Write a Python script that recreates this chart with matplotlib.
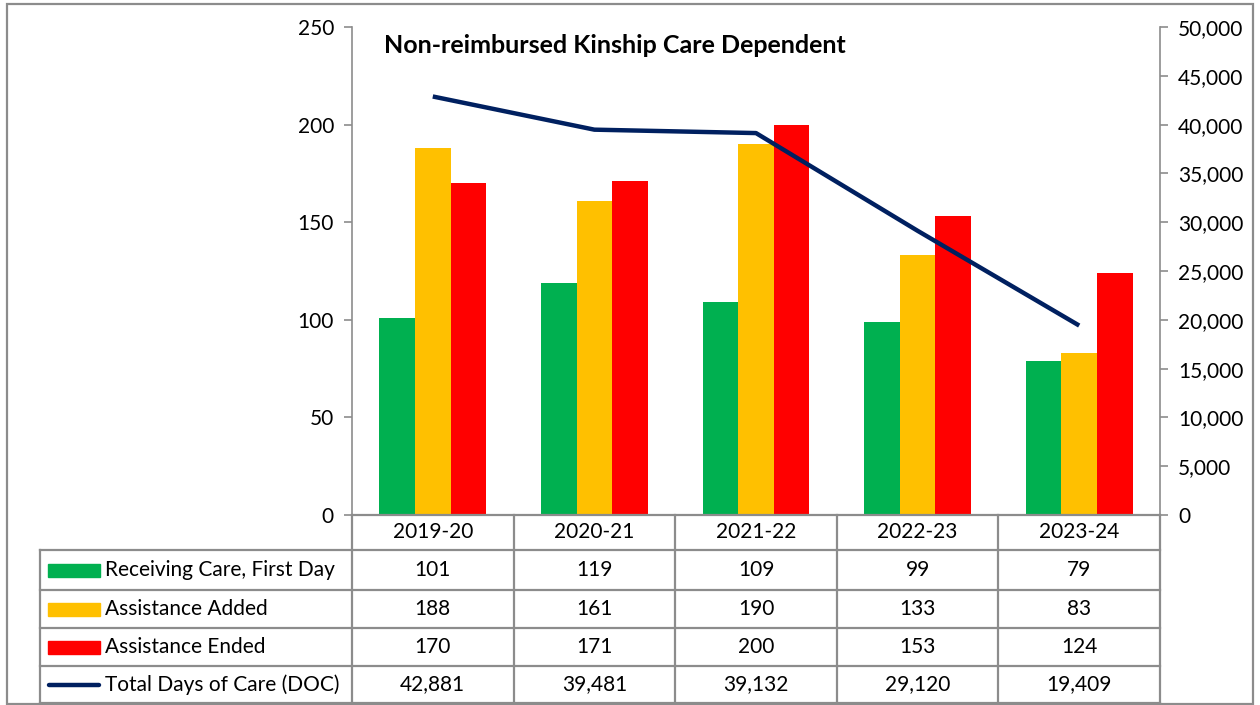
import matplotlib
matplotlib.use("Agg")
import matplotlib.pyplot as plt
from matplotlib.lines import Line2D
from matplotlib.patches import Rectangle
from matplotlib.ticker import FuncFormatter, MultipleLocator
import matplotlib.transforms as mtransforms

plt.rcParams['font.family'] = ['Lato', 'DejaVu Sans']

# Données
categories = ["2019-20", "2020-21", "2021-22", "2022-23", "2023-24"]
receiving = [101, 119, 109, 99, 79]
added = [188, 161, 190, 133, 83]
ended = [170, 171, 200, 153, 124]
doc = [42881, 39481, 39132, 29120, 19409]
series_names = ["Receiving Care, First Day", "Assistance Added",
                "Assistance Ended", "Total Days of Care (DOC)"]

GREEN, YELLOW, RED, NAVY = "#00B050", "#FFC000", "#FF0000", "#002060"
GRID = "#8C8C8C"
FS = 15

W, H = 1260, 705
fig = plt.figure(figsize=(W / 100, H / 100), dpi=100)

def fx(x):
    return x / W

def fy(y):
    return 1 - y / H

# Zone du graphique
left, right, top, bottom = 352, 1160, 27, 515
ax = fig.add_axes([fx(left), fy(bottom), fx(right - left), (bottom - top) / H])
x = list(range(len(categories)))
bw = 0.22
ax.bar([i - bw for i in x], receiving, bw, color=GREEN)
ax.bar(x, added, bw, color=YELLOW)
ax.bar([i + bw for i in x], ended, bw, color=RED)
ax.set_xlim(-0.5, len(categories) - 0.5)
ax.set_ylim(0, 250)
ax.yaxis.set_major_locator(MultipleLocator(50))
ax.set_xticks([])
for s in ["top", "bottom", "right"]:
    ax.spines[s].set_visible(False)
ax.spines["left"].set_color(GRID)
ax.spines["left"].set_linewidth(1.2)
ax.tick_params(axis="y", direction="out", length=6, color=GRID, width=1.2,
               labelsize=FS, pad=7)

ax2 = ax.twinx()
ax2.plot(x, doc, color=NAVY, linewidth=3.2, solid_capstyle="butt")
ax2.set_ylim(0, 50000)
ax2.yaxis.set_major_locator(MultipleLocator(5000))
ax2.yaxis.set_major_formatter(FuncFormatter(lambda v, p: f"{int(v):,}"))
for s in ["top", "bottom", "left"]:
    ax2.spines[s].set_visible(False)
ax2.spines["right"].set_color(GRID)
ax2.spines["right"].set_linewidth(1.2)
ax2.tick_params(axis="y", direction="out", length=6, color=GRID, width=1.2,
                labelsize=FS, pad=7)

ax.text(0.04, 0.985, "Non-reimbursed Kinship Care Dependent", transform=ax.transAxes,
        fontsize=18, fontweight="bold", ha="left", va="top")

# Tableau de données
trans = mtransforms.blended_transform_factory(ax.transData, fig.transFigure)
rows_y = [515, 550, 590, 628, 666, 703]
lw = 1.6

def hline(x0, x1, y):
    fig.add_artist(Line2D([fx(x0), fx(x1)], [fy(y), fy(y)], color=GRID, lw=lw))

def vline(xp, y0, y1):
    fig.add_artist(Line2D([fx(xp), fx(xp)], [fy(y0), fy(y1)], color=GRID, lw=lw))

hline(left, right, rows_y[0])
for y in rows_y[1:]:
    hline(40, right, y)
vline(40, rows_y[1], rows_y[-1])
for i in range(len(categories) + 1):
    xp = left + (right - left) * i / len(categories)
    vline(xp, rows_y[0], rows_y[-1])

for i, c in enumerate(categories):
    fig.text(i, fy((rows_y[0] + rows_y[1]) / 2), c, transform=trans,
             ha="center", va="center", fontsize=FS)

table_rows = [receiving, added, ended, [f"{v:,}" for v in doc]]
keys = [GREEN, YELLOW, RED, NAVY]
for r, (vals, name, col) in enumerate(zip(table_rows, series_names, keys)):
    yc = fy((rows_y[r + 1] + rows_y[r + 2]) / 2)
    if r < 3:
        fig.add_artist(Rectangle((fx(48), yc - 6.5 / H), fx(52), 13 / H,
                                 color=col, transform=fig.transFigure))
    else:
        fig.add_artist(Line2D([fx(49), fx(99)], [yc, yc], color=col, lw=3.2,
                              solid_capstyle="round"))
    fig.text(fx(105), yc, name, ha="left", va="center", fontsize=FS)
    for i, v in enumerate(vals):
        fig.text(i, yc, str(v), transform=trans, ha="center", va="center", fontsize=FS)

# Cadre extérieur
fig.add_artist(Rectangle((fx(7), fy(704)), fx(1246), (704 - 4) / H, fill=False,
                         edgecolor=GRID, lw=1.6, transform=fig.transFigure))

plt.savefig("out.png", dpi=100)
